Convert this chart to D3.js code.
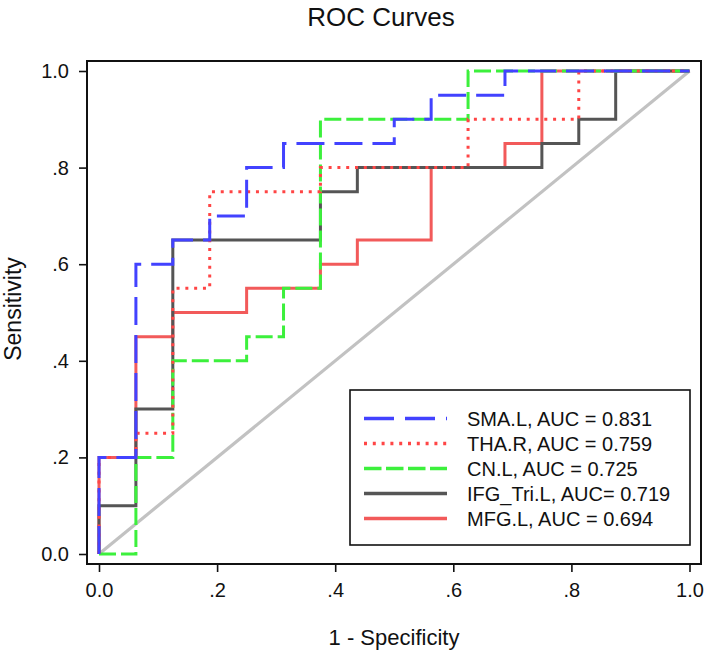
<!DOCTYPE html>
<html>
<head>
<meta charset="utf-8">
<script src="https://cdn.jsdelivr.net/npm/d3@7"></script>
<style>
  body { margin: 0; background: #fff; }
  text { font-family: "Liberation Sans", Arial, sans-serif; fill: #111; }
</style>
</head>
<body>
<svg id="chart" width="709" height="653"></svg>
<script>
// ROC curves: each point is the right end of a plateau (drawn with curveStepBefore)
var seriesNames = ["SMA.L", "THA.R", "CN.L", "IFG_Tri.L", "MFG.L"];
var legendLabels = ["SMA.L, AUC = 0.831", "THA.R, AUC = 0.759", "CN.L, AUC = 0.725",
                    "IFG_Tri.L, AUC= 0.719", "MFG.L, AUC = 0.694"];

var smaFpr = [0, .0625, .125, .1875, .25, .3125, .5, .5625, .6875, 1];
var smaTpr = [0, .2, .6, .65, .7, .8, .85, .9, .95, 1];

var thaFpr = [0, .0625, .125, .1875, .375, .625, .8125, 1];
var thaTpr = [0, .2, .25, .55, .75, .8, .9, 1];

var cnFpr = [0, .0625, .125, .25, .3125, .375, .625, 1];
var cnTpr = [0, 0, .2, .4, .45, .55, .9, 1];

var ifgFpr = [0, .0625, .125, .375, .4375, .75, .8125, .875, 1];
var ifgTpr = [0, .1, .3, .65, .75, .8, .85, .9, 1];

var mfgFpr = [0, .0625, .125, .25, .375, .4375, .5625, .6875, .75, 1];
var mfgTpr = [0, .2, .45, .5, .55, .6, .65, .8, .85, 1];

var tickValues = [0, .2, .4, .6, .8, 1];
var tickLabels = ["0.0", ".2", ".4", ".6", ".8", "1.0"];

// styles
var colors = {"SMA.L": "#4242ff", "THA.R": "#ff4545", "CN.L": "#3cf03c", "IFG_Tri.L": "#555555", "MFG.L": "#f25a5a"};
var dashes = {"SMA.L": "28,10", "THA.R": "3,5.8", "CN.L": "17,5", "IFG_Tri.L": null, "MFG.L": null};
var legendDashes = {"SMA.L": "30,11", "THA.R": "3,5.8", "CN.L": "17.5,4.5", "IFG_Tri.L": null, "MFG.L": null};

var curves = {
  "SMA.L": d3.zip(smaFpr, smaTpr),
  "THA.R": d3.zip(thaFpr, thaTpr),
  "CN.L": d3.zip(cnFpr, cnTpr),
  "IFG_Tri.L": d3.zip(ifgFpr, ifgTpr),
  "MFG.L": d3.zip(mfgFpr, mfgTpr)
};

var svg = d3.select("#chart");
var box = {left: 87, right: 701, top: 61, bottom: 564};

var x = d3.scaleLinear().domain([0, 1]).range([99, 689.5]);
var y = d3.scaleLinear().domain([0, 1]).range([554, 71]);

// title
svg.append("text")
  .attr("x", 381).attr("y", 26)
  .attr("text-anchor", "middle")
  .style("font-size", "26px")
  .text("ROC Curves");

// axes
var xAxis = d3.axisBottom(x).tickValues(tickValues).tickSize(8).tickPadding(11)
  .tickFormat(function(d, i){ return tickLabels[i]; });
var yAxis = d3.axisLeft(y).tickValues(tickValues).tickSize(8).tickPadding(10)
  .tickFormat(function(d, i){ return tickLabels[i]; });

var gx = svg.append("g").attr("transform", "translate(0," + box.bottom + ")").call(xAxis);
var gy = svg.append("g").attr("transform", "translate(" + box.left + ",0)").call(yAxis);
[gx, gy].forEach(function(g){
  g.select(".domain").remove();
  g.selectAll(".tick line").attr("stroke", "#111").attr("stroke-width", 1.6);
  g.selectAll(".tick text").style("font-size", "20px").attr("fill", "#111")
    .style("font-family", "'Liberation Sans', Arial, sans-serif");
});

// axis titles
svg.append("text")
  .attr("x", 394).attr("y", 645)
  .attr("text-anchor", "middle")
  .style("font-size", "22px")
  .text("1 - Specificity");
svg.append("text")
  .attr("transform", "translate(21,309) rotate(-90)")
  .attr("text-anchor", "middle")
  .style("font-size", "23px")
  .text("Sensitivity");

// reference diagonal
svg.append("line")
  .attr("x1", x(0)).attr("y1", y(0)).attr("x2", x(1)).attr("y2", y(1))
  .attr("stroke", "#c2c2c2").attr("stroke-width", 3.2);

// curves (SMA drawn last so it sits on top)
var line = d3.line()
  .x(function(d){ return x(d[0]); })
  .y(function(d){ return y(d[1]); })
  .curve(d3.curveStepBefore);

seriesNames.slice().reverse().forEach(function(name){
  svg.append("path")
    .datum(curves[name])
    .attr("d", line)
    .attr("fill", "none")
    .attr("stroke", colors[name])
    .attr("stroke-width", 3)
    .attr("stroke-dasharray", dashes[name]);
});

// plot frame
svg.append("rect")
  .attr("x", box.left).attr("y", box.top)
  .attr("width", box.right - box.left).attr("height", box.bottom - box.top)
  .attr("fill", "none").attr("stroke", "#111").attr("stroke-width", 2);

// legend
var legend = svg.append("g");
legend.append("rect")
  .attr("x", 350).attr("y", 390).attr("width", 340).attr("height", 155)
  .attr("fill", "#fff").attr("stroke", "#111").attr("stroke-width", 1.6);

seriesNames.forEach(function(name, i){
  var base = 425.5 + i * 25;
  legend.append("line")
    .attr("x1", 364).attr("x2", 447)
    .attr("y1", base - 7).attr("y2", base - 7)
    .attr("stroke", colors[name]).attr("stroke-width", 3.5)
    .attr("stroke-dasharray", legendDashes[name]);
  legend.append("text")
    .attr("x", 467).attr("y", base)
    .style("font-size", "20px")
    .text(legendLabels[i]);
});
</script>
</body>
</html>
